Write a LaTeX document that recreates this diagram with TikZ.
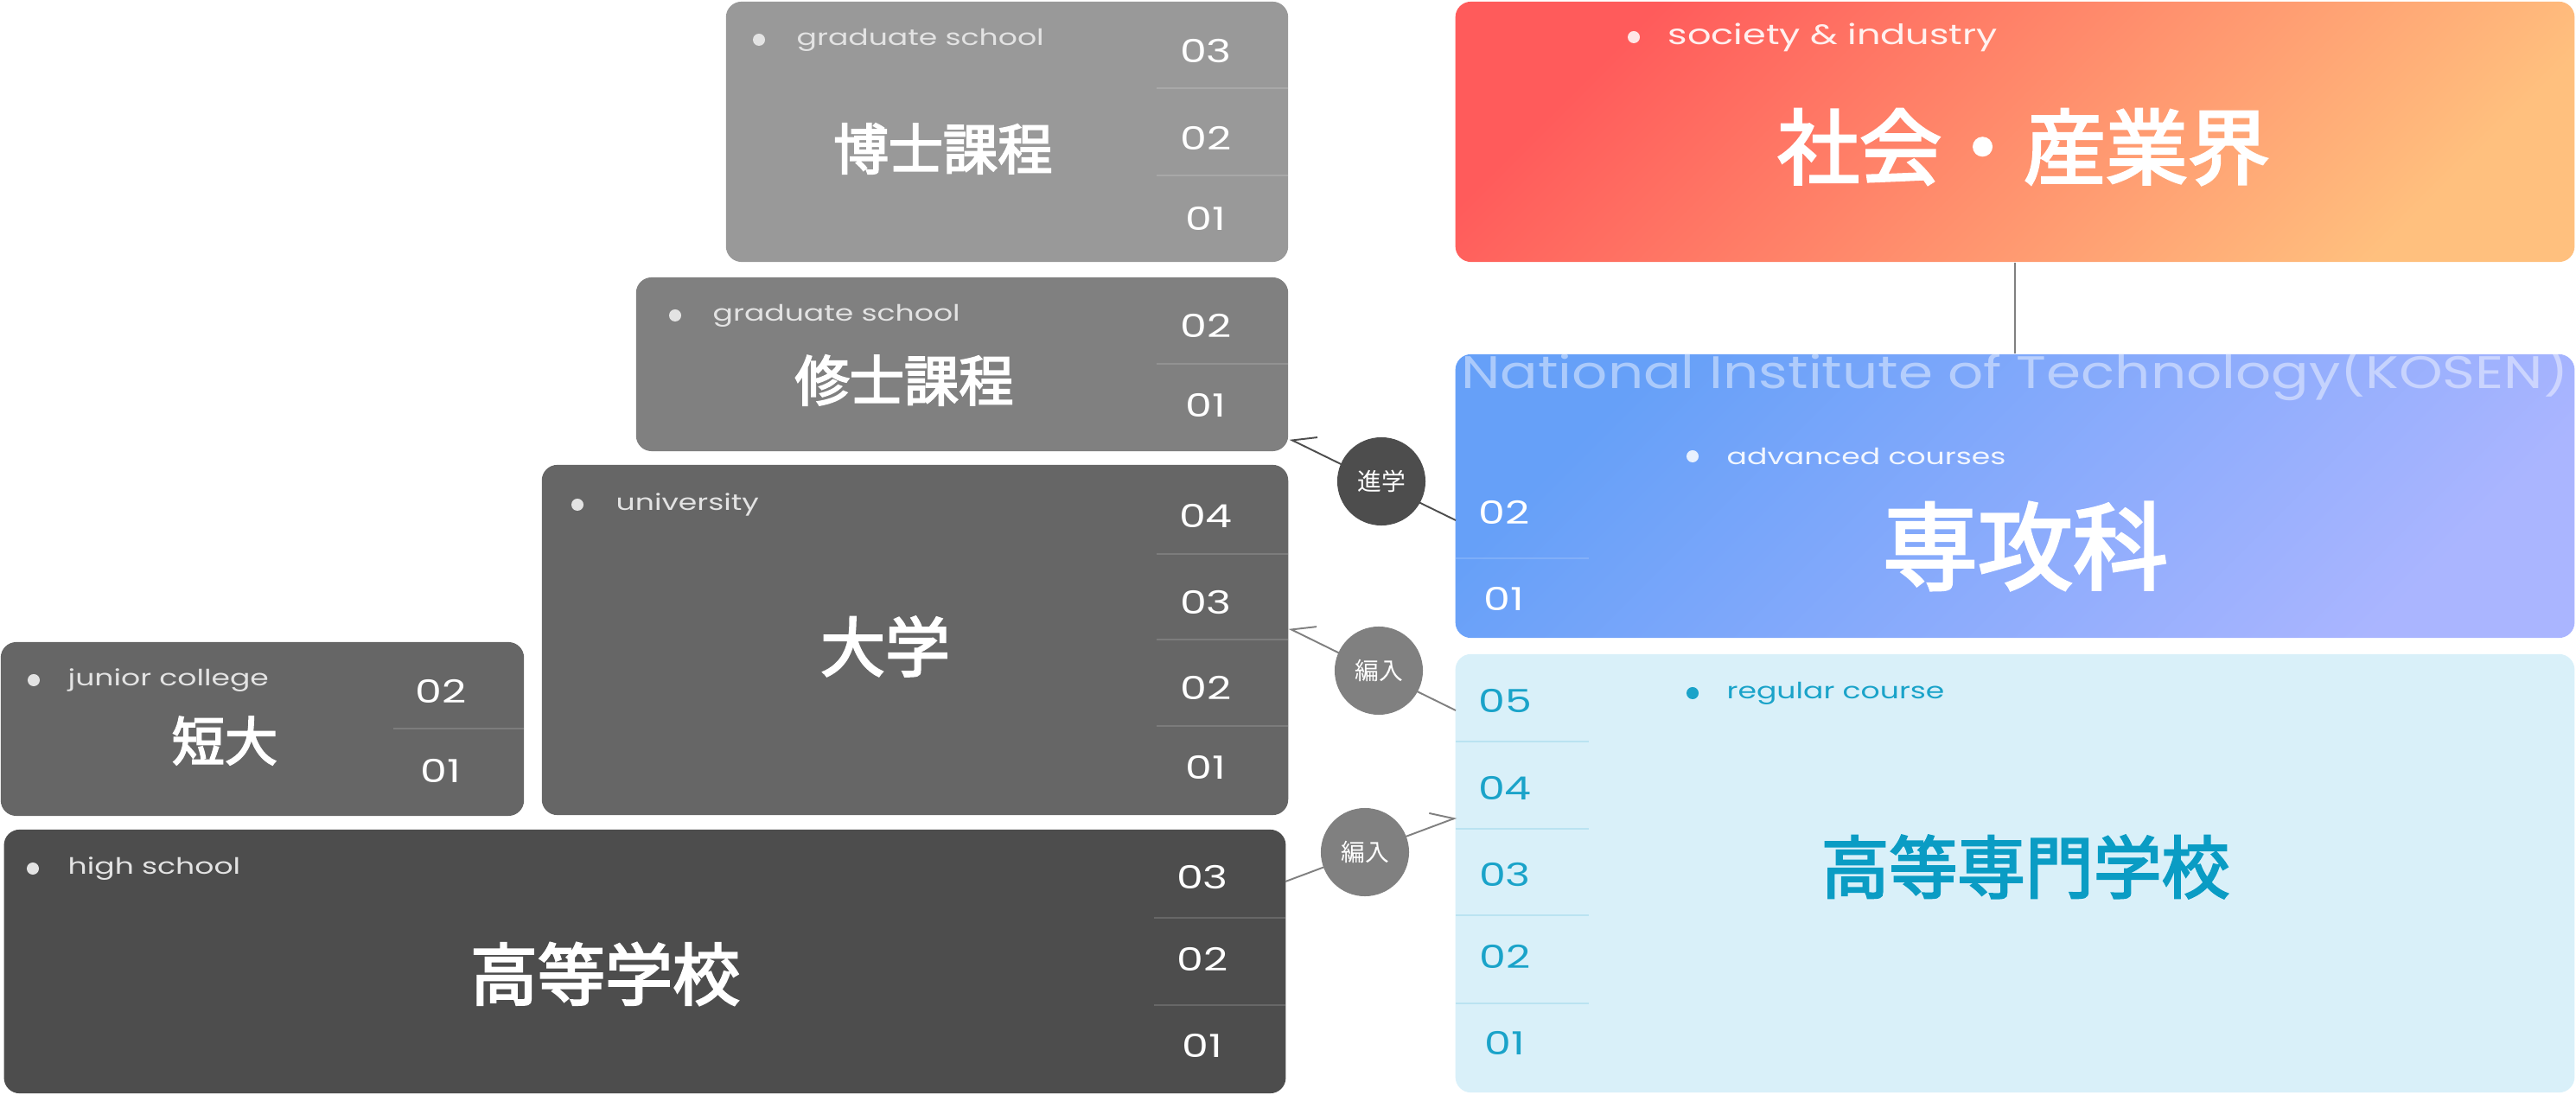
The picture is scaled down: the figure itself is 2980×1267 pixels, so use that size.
\documentclass[tikz,border=0pt]{standalone}
\usepackage{fontspec}
\usepackage{graphicx}
\setmainfont{Poppins}
\newfontfamily\jp{Noto Sans CJK JP}
\newfontfamily\jpm{Noto Sans CJK JP}[FakeBold=3]
\usetikzlibrary{arrows.meta}
\definecolor{phdgray}{HTML}{999999}
\definecolor{masgray}{HTML}{808080}
\definecolor{unigray}{HTML}{666666}
\definecolor{hsgray}{HTML}{4D4D4D}
\definecolor{labgray}{HTML}{E3E3E3}
\definecolor{socA}{HTML}{FF5B5B}
\definecolor{socB}{HTML}{FFC07E}
\definecolor{advA}{HTML}{66A0F8}
\definecolor{advB}{HTML}{AAB5FF}
\definecolor{regbg}{HTML}{D9F0F9}
\definecolor{regtext}{HTML}{0A9CC4}
\definecolor{regnum}{HTML}{1AA3C9}

\begin{document}
\begin{tikzpicture}[x=0.01cm,y=-0.01cm]
\tikzset{
    box/.style={rectangle, rounded corners=0.18cm, inner sep=0pt},
    big/.style={font=\jpm\fontsize{#1}{#1}\selectfont, text=white, inner sep=0pt},
    year/.style={font=\fontsize{10.5}{12}\selectfont, text=white, inner sep=0pt},
    lab/.style={font=\fontsize{7.4}{9}\selectfont, text=labgray, anchor=west, inner sep=0pt},
    bullet/.style={circle, fill=labgray, minimum size=0.14cm, inner sep=0pt},
    row line/.style={white, opacity=0.15, line width=0.4pt},
    route/.style={circle, minimum size=1.02cm, inner sep=0pt, text=white, font=\jp\fontsize{7.9}{9}\selectfont},
    link/.style={line width=0.55pt},
    harp/.style={-{Straight Barb[harpoon,length=7pt,width=9pt]}},
    harp swap/.style={-{Straight Barb[harpoon,swap,length=7pt,width=9pt]}}}
\def\ext#1{\scalebox{1.33}[1]{#1}}

\useasboundingbox (0,0) rectangle (2980,1267);

% left side
\node[box, fill=phdgray, minimum width=6.5cm, minimum height=3.01cm] (phd) at (1165,152.5) {};
\node[box, fill=masgray, minimum width=7.54cm, minimum height=2.01cm] (mas) at (1113,421.5) {};
\node[box, fill=unigray, minimum width=8.63cm, minimum height=4.05cm] (uni) at (1058.5,740.5) {};
\node[box, fill=unigray, minimum width=6.05cm, minimum height=2.01cm] (jc) at (303.5,843.5) {};
\node[box, fill=hsgray, minimum width=14.82cm, minimum height=3.05cm] (hs) at (746,1112.5) {};

% right side
\node[box, top color=socA, bottom color=socB, shading angle=45, minimum width=12.94cm, minimum height=3.01cm] (soc) at (2331,152.5) {};
\node[box, top color=advA, bottom color=advB, shading angle=45, minimum width=12.94cm, minimum height=3.28cm] (adv) at (2331,574) {};
\node[box, fill=regbg, minimum width=12.94cm, minimum height=5.07cm] (reg) at (2331,1010.5) {};

% year rows
\foreach \y in {102,203} \draw[row line] (1338,\y) -- (1490,\y);
\draw[row line] (1338,421) -- (1490,421);
\foreach \y in {641,740,840} \draw[row line] (1338,\y) -- (1490,\y);
\draw[row line] (455,843) -- (606,843);
\foreach \y in {1062,1163} \draw[row line] (1335,\y) -- (1487,\y);
\draw[row line] (1684,646) -- (1838,646);
\foreach \y in {858,959,1059,1161} \draw[row line, regtext] (1684,\y) -- (1838,\y);

\foreach \n/\y in {03/59,02/160,01/253} \node[year] (phd-\n) at (1395,\y) {\ext{\n}};
\foreach \n/\y in {02/377,01/469} \node[year] (mas-\n) at (1395,\y) {\ext{\n}};
\foreach \n/\y in {04/597,03/697,02/796,01/888} \node[year] (uni-\n) at (1395,\y) {\ext{\n}};
\foreach \n/\y in {02/800,01/892} \node[year] (jc-\n) at (510,\y) {\ext{\n}};
\foreach \n/\y in {03/1015,02/1110,01/1210} \node[year] (hs-\n) at (1391,\y) {\ext{\n}};
\foreach \n/\y in {02/593,01/693} \node[year] (adv-\n) at (1740,\y) {\ext{\n}};
\foreach \n/\y in {05/811,04/912,03/1012,02/1107,01/1207} \node[year, text=regnum] (reg-\n) at (1741,\y) {\ext{\n}};

% labels
\node[bullet] (phd-dot) at (878,46) {};
\node[lab] (phd-lab) at (921,46) {\ext{graduate school}};
\node[bullet] (mas-dot) at (781,365) {};
\node[lab] (mas-lab) at (824,365) {\ext{graduate school}};
\node[bullet] (uni-dot) at (668,584) {};
\node[lab] (uni-lab) at (712,584) {\ext{university}};
\node[bullet] (jc-dot) at (39,787) {};
\node[lab] (jc-lab) at (78,787) {\ext{junior college}};
\node[bullet] (hs-dot) at (38,1005) {};
\node[lab] (hs-lab) at (78,1005) {\ext{high school}};
\node[bullet, fill=white, opacity=0.85] (soc-dot) at (1890,43) {};
\node[lab, text=white, text opacity=0.9, font=\fontsize{9.2}{11}\selectfont] (soc-lab) at (1929,43) {\ext{society \& industry}};
\node[bullet, fill=white, opacity=0.85] (adv-dot) at (1958,528) {};
\node[lab, text=white, text opacity=0.9] (adv-lab) at (1997,528) {\ext{advanced courses}};
\node[bullet, fill=regnum] (reg-dot) at (1958,802) {};
\node[lab, text=regnum] (reg-lab) at (1997,802) {\ext{regular course}};

\node[anchor=base, inner sep=0pt, text=white, text opacity=0.45, font=\fontsize{15}{15}\selectfont] (nit) at (2331,450)
  {\resizebox{12.8cm}{\height}{National Institute of Technology(KOSEN)}};

% names
\node[big=18] (phd-t) at (1091,172) {博士課程};
\node[big=18] (mas-t) at (1046,440) {修士課程};
\node[big=21.3] (uni-t) at (1024,748) {大学};
\node[big=17.4] (jc-t) at (260,857) {短大};
\node[big=22.2] (hs-t) at (700,1127) {高等学校};
\node[big=27] (soc-t) at (2341,170) {社会・産業界};
\node[big=31.3] (adv-t) at (2343,632) {専攻科};
\node[big=22.4, text=regtext] (reg-t) at (2343,1003) {高等専門学校};

% routes
\coordinate (mas-in) at (1492,508);
\coordinate (adv-out) at (1684,602);
\coordinate (uni-in) at (1491,727);
\coordinate (reg-out) at (1684,822);
\coordinate (hs-out) at (1487,1020);
\coordinate (reg-in) at (1685,946);

\draw[link, masgray] (soc.south) -- (adv.north);
\draw[link, hsgray, harp swap] (adv-out) -- (mas-in);
\draw[link, masgray, harp swap] (reg-out) -- (uni-in);
\draw[link, masgray, harp] (hs-out) -- (reg-in);

\node[route, fill=hsgray] (go-on) at (1598,557) {進学};
\node[route, fill=masgray] (move-uni) at (1595,776) {編入};
\node[route, fill=masgray] (move-kosen) at (1579,986) {編入};

\end{tikzpicture}
\end{document}
